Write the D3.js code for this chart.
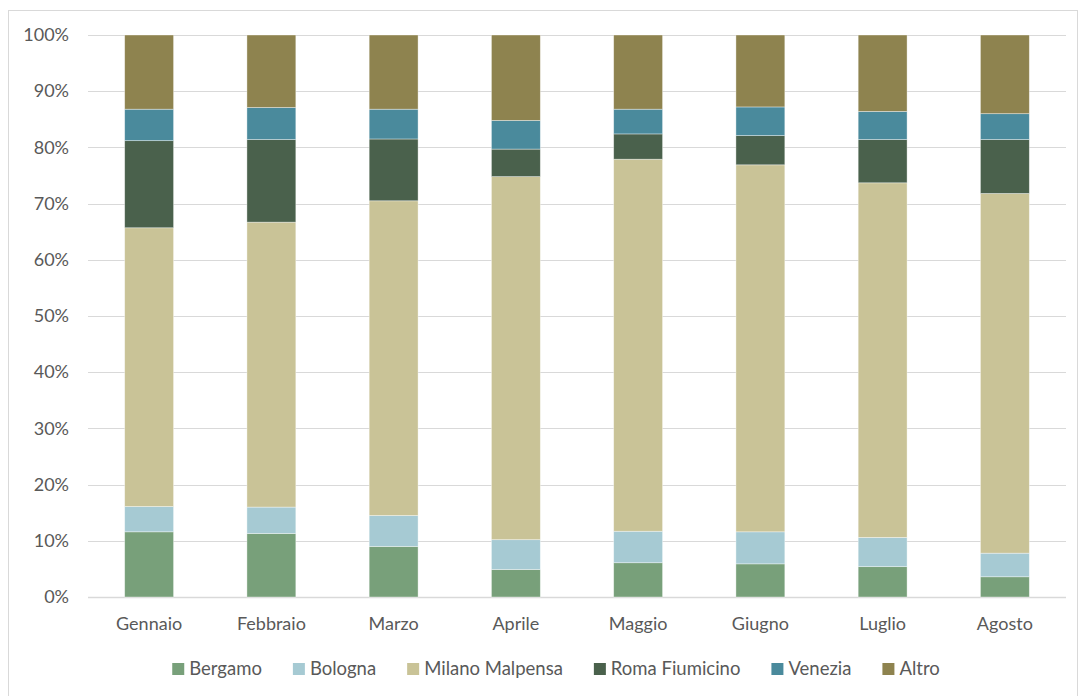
<!DOCTYPE html>
<html><head><meta charset="utf-8">
<script src="https://cdn.jsdelivr.net/npm/d3@7"></script>
<style>body{margin:0;background:#fff;} svg{display:block;} text{font-family:Lato,"Open Sans",sans-serif;fill:#595959;}</style>
</head><body>
<svg id="c" width="1081" height="696"></svg>
<script>
const categories = ["Gennaio","Febbraio","Marzo","Aprile","Maggio","Giugno","Luglio","Agosto"];
const seriesNames = ["Bergamo","Bologna","Milano Malpensa","Roma Fiumicino","Venezia","Altro"];
const bergamo  = [11.6, 11.3,  9.0,  4.9,  6.1,  5.9,  5.4,  3.6];
const bologna  = [ 4.5,  4.7,  5.5,  5.3,  5.6,  5.7,  5.2,  4.2];
const malpensa = [49.6, 50.7, 56.0, 64.6, 66.2, 65.3, 63.1, 64.0];
const fiumicino= [15.5, 14.7, 11.0,  4.9,  4.5,  5.2,  7.7,  9.6];
const venezia  = [ 5.6,  5.7,  5.3,  5.1,  4.4,  5.1,  5.0,  4.6];
const altro    = [13.2, 12.9, 13.2, 15.2, 13.2, 12.8, 13.6, 14.0];
const colors = ["#78A07A","#A6CAD3","#C9C397","#4A614C","#4A8A9C","#8E834F"];
const tickValues = [0,0.1,0.2,0.3,0.4,0.5,0.6,0.7,0.8,0.9,1.0];

const seriesValues = [bergamo, bologna, malpensa, fiumicino, venezia, altro];
const rows = categories.map((c,i)=>{
  const r = {cat:c};
  seriesNames.forEach((s,j)=> r[s] = seriesValues[j][i]);
  return r;
});
const stacked = d3.stack().keys(seriesNames).offset(d3.stackOffsetExpand)(rows);

const svg = d3.select("#c");
svg.append("rect").attr("x",8.5).attr("y",10.5).attr("width",1069).attr("height",700)
  .attr("fill","none").attr("stroke","#d9d9d9").attr("stroke-width",1);

const L=88, R=1066, T=35, B=597;
const x = d3.scaleBand().domain(categories).range([L,R]).paddingInner(0.6).paddingOuter(0.3);
const y = d3.scaleLinear().domain([0,1]).range([B,T]);

// gridlines
svg.append("g").selectAll("line").data(tickValues).join("line")
  .attr("x1",L).attr("x2",R).attr("y1",d=>Math.round(y(d))+0.5).attr("y2",d=>Math.round(y(d))+0.5)
  .attr("stroke","#d9d9d9").attr("stroke-width",d=>d===0?1.5:1);

// y axis labels
const yAxis = d3.axisLeft(y).tickValues(tickValues).tickFormat(d3.format(".0%")).tickSize(0).tickPadding(0);
const ga = svg.append("g").attr("transform",`translate(69,0)`).call(yAxis);
ga.select(".domain").remove();
ga.selectAll("text").attr("font-size",18).attr("font-family","Lato").attr("fill","#595959");

// bars
svg.append("g").selectAll("g").data(stacked).join("g")
  .attr("fill",(d,i)=>colors[i])
  .selectAll("rect").data(d=>d).join("rect")
  .attr("x",d=>x(d.data.cat)).attr("width",x.bandwidth())
  .attr("y",d=>y(d[1])).attr("height",d=>y(d[0])-y(d[1]))
  .attr("stroke","#ffffff").attr("stroke-opacity",0.5).attr("stroke-width",0.75);

// x axis labels
const xAxis = d3.axisBottom(x).tickSize(0).tickPadding(0);
const gx = svg.append("g").attr("transform",`translate(0,${B+20})`).call(xAxis);
gx.select(".domain").remove();
gx.selectAll("text").attr("font-size",18).attr("font-family","Lato").attr("fill","#595959");

// legend
const lg = svg.append("g");
const items = lg.selectAll("g").data(seriesNames).join("g");
items.append("rect").attr("width",12).attr("height",12).attr("y",663).attr("fill",(d,i)=>colors[i]);
items.append("text").attr("x",17).attr("y",675).attr("font-size",18.5).text(d=>d);
const gap = 31;
let cx = 0;
items.each(function(d){
  const w = 17 + this.querySelector("text").getComputedTextLength();
  d3.select(this).attr("transform",`translate(${cx},0)`);
  cx += w + gap;
});
const total = cx - gap;
lg.attr("transform",`translate(${556 - total/2},0)`);
</script>
</body></html>
